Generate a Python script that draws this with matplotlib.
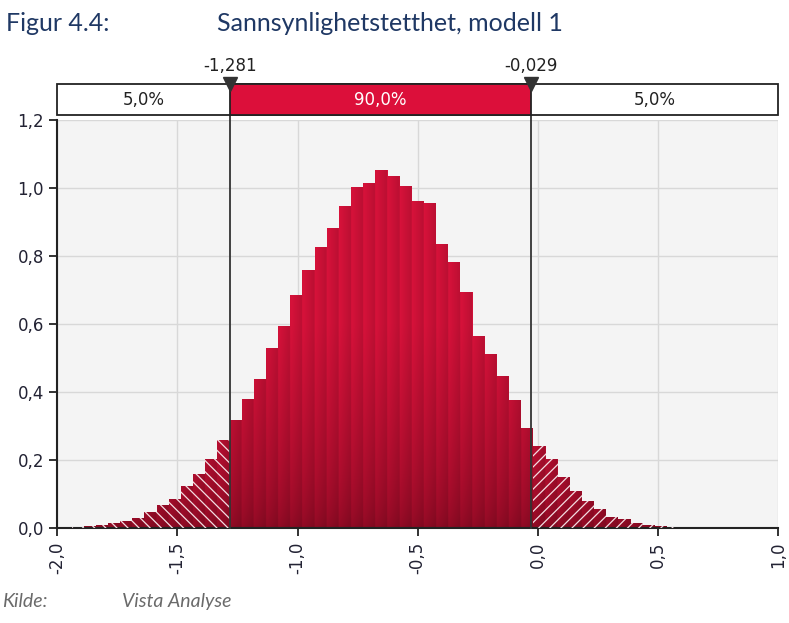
import numpy as np
import matplotlib
matplotlib.use("Agg")
import matplotlib.pyplot as plt
from matplotlib.path import Path
from matplotlib.patches import PathPatch, Rectangle

plt.rcParams['font.family'] = ['DejaVu Sans']
plt.rcParams['hatch.linewidth'] = 0.9

# Data
left_tail = [0.005, 0.007, 0.011, 0.016, 0.023, 0.030, 0.048, 0.069, 0.087,
             0.126, 0.160, 0.205, 0.260]
middle = [0.319, 0.379, 0.438, 0.531, 0.595, 0.685, 0.760, 0.826, 0.884,
          0.948, 1.002, 1.015, 1.054, 1.036, 1.007, 0.961, 0.955, 0.836,
          0.783, 0.695, 0.566, 0.513, 0.448, 0.377, 0.296]
right_tail = [0.241, 0.205, 0.152, 0.111, 0.082, 0.058, 0.035, 0.029, 0.017,
              0.011, 0.007, 0.004]
bin_width = 0.0506
mid_start = -1.283
delimiters = [-1.281, -0.029]
delim_labels = ["-1,281", "-0,029"]
region_labels = ["5,0%", "90,0%", "5,0%"]
x_ticks = [-2.0, -1.5, -1.0, -0.5, 0.0, 0.5, 1.0]
y_ticks = [0.0, 0.2, 0.4, 0.6, 0.8, 1.0, 1.2]

heights = np.array(left_tail + middle + right_tail)
n_left, n_mid = len(left_tail), len(middle)
lefts = mid_start + bin_width * (np.arange(len(heights)) - n_left)

fig = plt.figure(figsize=(7.89, 6.23), dpi=100)
ax = fig.add_axes([0.0726, 0.1517, 0.9134, 0.6557])
ax.set_facecolor('#F4F4F4')
ax.set_xlim(-2.0, 1.0)
ax.set_ylim(0, 1.2)

# base bars
ax.bar(lefts, heights, width=bin_width, align='edge', color='#B3102F',
       linewidth=0, zorder=2)

# gradient fill clipped to the bars
verts, codes = [], []
for l, h in zip(lefts, heights):
    verts += [(l, 0), (l + bin_width, 0), (l + bin_width, h), (l, h), (l, 0)]
    codes += [Path.MOVETO, Path.LINETO, Path.LINETO, Path.LINETO, Path.CLOSEPOLY]
clip = PathPatch(Path(verts, codes), transform=ax.transData,
                 facecolor='none', edgecolor='none')
ax.add_patch(clip)
nx, ny = 1500, 300
xs = np.linspace(-2.0, 1.0, nx)
ys = np.linspace(0, 1.1, ny)
phase = ((xs - mid_start) / bin_width) % 1.0
hshade = 1.0 - 0.14 * phase
top = np.array([0.85, 0.07, 0.23])
bot = np.array([0.56, 0.04, 0.14])
t = np.clip(ys / 0.6, 0, 1) ** 0.6
img = bot[None, None, :] + (top - bot)[None, None, :] * t[:, None, None]
img = img * hshade[None, :, None]
im = ax.imshow(np.clip(img, 0, 1), extent=[-2.0, 1.0, 0, 1.1], origin='lower',
               aspect='auto', zorder=2.5, interpolation='bilinear')
im.set_clip_path(clip)

# hatched tails
ax.bar(lefts[:n_left], heights[:n_left], width=bin_width, align='edge',
       facecolor='none', edgecolor='#F4DDE2', linewidth=0, hatch='\\\\\\', zorder=3)
ax.bar(lefts[n_left + n_mid:], heights[n_left + n_mid:], width=bin_width,
       align='edge', facecolor='none', edgecolor='#F4DDE2', linewidth=0,
       hatch='///', zorder=3)

# delimiter lines
for d in delimiters:
    ax.plot([d, d], [0, 1.215], color='#333333', lw=1.3, zorder=4, clip_on=False)

# top region bar
y0, y1 = 1.215, 1.305
ax.add_patch(Rectangle((-2.0, y0), 3.0, y1 - y0, facecolor='white',
                       edgecolor='#222222', lw=1.3, clip_on=False, zorder=5))
ax.add_patch(Rectangle((delimiters[0], y0), delimiters[1] - delimiters[0], y1 - y0,
                       facecolor='#DC0F3A', edgecolor='#222222', lw=1.3,
                       clip_on=False, zorder=5))
bounds = [-2.0] + delimiters + [1.0]
for i, lab in enumerate(region_labels):
    ax.text((bounds[i] + bounds[i + 1]) / 2, (y0 + y1) / 2, lab,
            ha='center', va='center', fontsize=12,
            color='white' if i == 1 else '#222222', zorder=6)
for d, lab in zip(delimiters, delim_labels):
    ax.plot([d], [y1 + 0.002], marker='v', markersize=10, color='#333333',
            clip_on=False, zorder=7)
    ax.text(d, 1.36, lab, ha='center', va='center', fontsize=12, color='#222222')

# axes styling
ax.set_xticks(x_ticks)
ax.set_yticks(y_ticks)
ax.set_xticklabels([f"{v:.1f}".replace('.', ',') for v in x_ticks], rotation=90)
ax.set_yticklabels([f"{v:.1f}".replace('.', ',') for v in y_ticks])
ax.tick_params(axis='both', direction='out', length=6, width=1.3,
               labelsize=12, labelcolor='#222233', color='#222222')
ax.grid(True, color='#D8D8D8', lw=1.0, zorder=0)
ax.set_axisbelow(True)
for s in ['top', 'right']:
    ax.spines[s].set_visible(False)
for s in ['left', 'bottom']:
    ax.spines[s].set_color('#222222')
    ax.spines[s].set_linewidth(1.5)

# title and source
fig.text(0.008, 0.963, "Figur 4.4:", fontsize=18, color='#1F3864',
         family=['Lato', 'DejaVu Sans'], va='center')
fig.text(0.275, 0.963, "Sannsynlighetstetthet, modell 1", fontsize=18,
         color='#1F3864', family=['Lato', 'DejaVu Sans'], va='center')
fig.text(0.003, 0.035, "Kilde:", fontsize=14, color='#6A6A6A', style='italic',
         family=['Lato', 'DejaVu Sans'], va='center')
fig.text(0.155, 0.035, "Vista Analyse", fontsize=14, color='#6A6A6A',
         style='italic', family=['Lato', 'DejaVu Sans'], va='center')

fig.savefig("out.png", dpi=100)
